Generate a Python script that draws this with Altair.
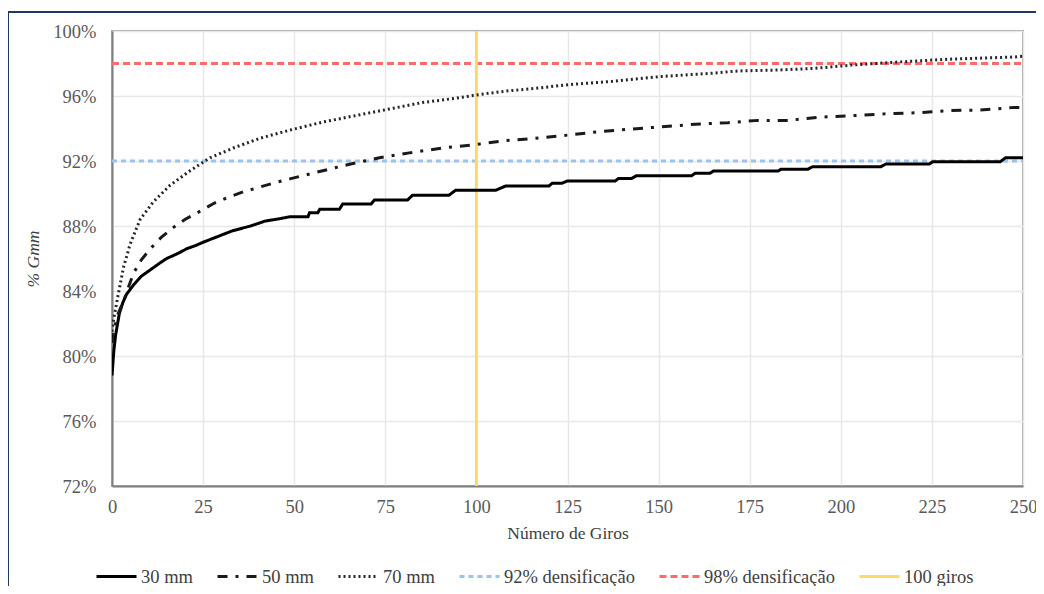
import altair as alt
import pandas as pd

# ---- data ----
series_names = ["30 mm", "50 mm", "70 mm", "92% densificação", "98% densificação", "100 giros"]

x30 = [0, 0.5, 1, 2, 3, 4, 6, 8, 10.5, 13, 15, 18, 20.5, 23, 25, 29, 33, 38, 42, 46,
       48.8, 53.8, 54.2, 56.5, 57, 62.4, 63.3, 71.1, 72, 81.1, 82.5, 92.5, 94.3, 105.3,
       108, 119.9, 120.8, 123.5, 124.9, 138.1, 139, 142.6, 144, 159.1, 160, 164.1, 165,
       182.8, 183.6, 191, 192.3, 211, 212.4, 224.3, 225.3, 243.8, 245.2, 250]
y30 = [78.8, 80.3, 81.3, 82.6, 83.3, 83.8, 84.4, 84.9, 85.3, 85.7, 86.0, 86.3, 86.6, 86.8,
       87.0, 87.35, 87.7, 88.0, 88.3, 88.45, 88.57, 88.57, 88.82, 88.82, 89.03, 89.03,
       89.35, 89.35, 89.6, 89.6, 89.9, 89.9, 90.2, 90.2, 90.46, 90.46, 90.63, 90.63,
       90.77, 90.77, 90.93, 90.93, 91.1, 91.1, 91.24, 91.24, 91.38, 91.38, 91.5, 91.5,
       91.65, 91.65, 91.82, 91.82, 91.96, 91.96, 92.2, 92.2]

x50 = [0, 0.4, 1.5, 3.2, 5.9, 8, 10.5, 13.5, 16.8, 20, 24.1, 28, 32.3, 36, 40.6, 44.5,
       48.8, 56, 65.2, 73.4, 81.6, 90.7, 99.3, 108, 116.2, 125.3, 133.5, 142.6, 150.8,
       160, 169, 177.3, 185.5, 194.6, 203.7, 212, 221, 229.7, 238.3, 247.9, 250]
y50 = [80.8, 81.4, 82.5, 83.4, 85.1, 85.9, 86.6, 87.3, 87.9, 88.4, 88.9, 89.4, 89.8,
       90.1, 90.4, 90.65, 90.9, 91.3, 91.8, 92.2, 92.5, 92.8, 93.0, 93.25, 93.4, 93.6,
       93.8, 93.97, 94.1, 94.26, 94.36, 94.5, 94.5, 94.7, 94.8, 94.9, 94.97, 95.1,
       95.14, 95.3, 95.3]

x70 = [0, 0.4, 1.8, 3.2, 5, 7.7, 11.4, 15.9, 21.4, 26.9, 33.3, 40.6, 48.8, 57.9, 67,
       76.1, 85.2, 94.3, 99.8, 108, 116.2, 125.3, 137.2, 150.8, 164.5, 171.8, 182.7,
       192.8, 202.8, 216.5, 229.2, 247.5, 250]
y70 = [81.5, 82.2, 83.9, 85.5, 86.9, 88.4, 89.5, 90.5, 91.4, 92.2, 92.8, 93.4, 93.9,
       94.4, 94.8, 95.2, 95.6, 95.86, 96.06, 96.3, 96.47, 96.7, 96.9, 97.2, 97.4, 97.54,
       97.6, 97.7, 97.9, 98.1, 98.26, 98.4, 98.45]

ref_x = [0, 250]
ref92 = [92, 92]
ref98 = [98, 98]
giros_x = [100, 100]
giros_y = [72, 100]

x_ticks = [0, 25, 50, 75, 100, 125, 150, 175, 200, 225, 250]
y_ticks = [72, 76, 80, 84, 88, 92, 96, 100]

colors = ["#000000", "#1a1a1a", "#262626", "#9DC3E6", "#FF6B6B", "#FFD966"]
dashes = [[1, 0], [10, 8, 3, 8], [2, 3], [5, 4], [7, 4], [1, 0]]
widths = [3, 3, 2, 2.2, 2.2, 2]

# ---- build table ----
rows = []
def add(name, xs, ys):
    for i, (a, b) in enumerate(zip(xs, ys)):
        rows.append({"series": name, "x": a, "y": b, "ord": i})

add("92% densificação", ref_x, ref92)
add("98% densificação", ref_x, ref98)
add("100 giros", giros_x, giros_y)
add("30 mm", x30, y30)
add("50 mm", x50, y50)
add("70 mm", x70, y70)
df = pd.DataFrame(rows)

FONT = "Liberation Serif, Times New Roman, serif"
W, H = 911, 455

lines = alt.Chart(df).mark_line(clip=True).encode(
    x=alt.X("x:Q", scale=alt.Scale(domain=[0, 250], nice=False),
            axis=alt.Axis(values=x_ticks, title="Número de Giros", ticks=False,
                          labelFlush=False, labelPadding=11, titlePadding=9,
                          gridColor="#e8e8e8", gridWidth=1.5,
                          domainColor="#7f7f7f", domainWidth=2,
                          labelFont=FONT, titleFont=FONT)),
    y=alt.Y("y:Q", scale=alt.Scale(domain=[72, 100], nice=False, zero=False),
            axis=alt.Axis(values=y_ticks, labelExpr="datum.value + '%'",
                          title="% Gmm", titleFontStyle="italic", ticks=False,
                          labelFlush=False, labelPadding=16, titlePadding=10,
                          gridColor="#e8e8e8", gridWidth=1.5,
                          domainColor="#7f7f7f", domainWidth=2,
                          labelFont=FONT, titleFont=FONT)),
    color=alt.Color("series:N", scale=alt.Scale(domain=series_names, range=colors),
                    legend=alt.Legend(title=None, orient="none", legendX=-17, legendY=524,
                                      direction="horizontal", columns=6,
                                      symbolType="stroke", symbolSize=1600,
                                      columnPadding=18, labelOffset=3, padding=0,
                                      labelFont=FONT, labelFontSize=18.5,
                                      labelColor="#404040", labelLimit=300)),
    strokeDash=alt.StrokeDash("series:N", scale=alt.Scale(domain=series_names, range=dashes),
                              legend=alt.Legend(title=None)),
    strokeWidth=alt.StrokeWidth("series:N", scale=alt.Scale(domain=series_names, range=widths),
                                legend=alt.Legend(title=None)),
    detail="series:N",
    order="ord:Q",
)

frame_df = pd.DataFrame({"k": [0]})
frame = alt.Chart(frame_df).mark_rect(filled=False, stroke="#1F3864", strokeWidth=2,
                                      clip=False).encode(
    x=alt.value(-104), x2=alt.value(1200), y=alt.value(-19), y2=alt.value(900)
)

chart = alt.layer(frame, lines).properties(
    width=W, height=H,
    autosize=alt.AutoSizeParams(type="none"),
    padding={"left": 104, "top": 23, "right": 13, "bottom": 100},
).configure(
    font=FONT
).configure_view(
    stroke="#a6a6a6", strokeWidth=2
).configure_axis(
    labelFont=FONT, labelFontSize=18.5, labelColor="#595959",
    titleFont=FONT, titleFontSize=17.5, titleColor="#404040", titleFontWeight="normal",
).configure_legend(
    labelFont=FONT, labelFontSize=18.5
)

chart.save("out.html", embed_options={"renderer": "svg", "actions": False})
